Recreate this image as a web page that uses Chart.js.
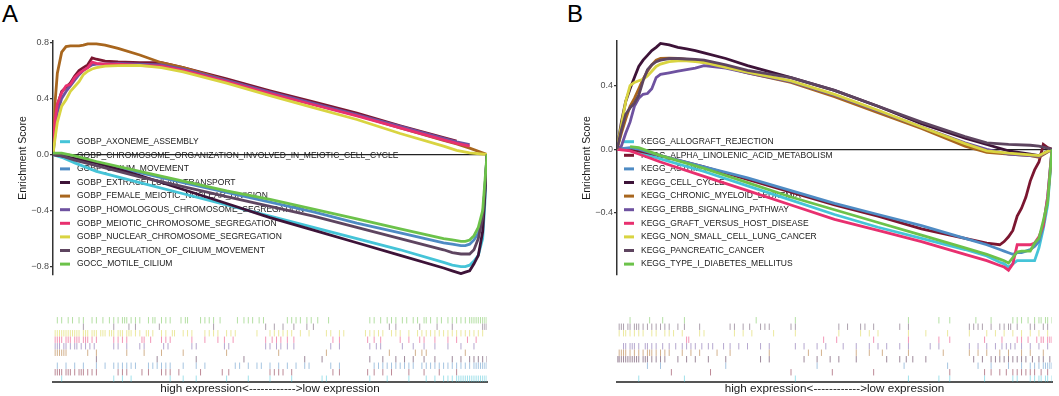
<!DOCTYPE html>
<html>
<head>
<meta charset="utf-8">
<script src="https://cdn.jsdelivr.net/npm/chart.js@4.4.1/dist/chart.umd.min.js"></script>
<style>
body{margin:0;background:#fff;width:1059px;height:396px;position:relative;overflow:hidden;font-family:"Liberation Sans",Arial,sans-serif}
canvas{position:absolute}
.tag{position:absolute;font-size:24px;line-height:24px;color:#000}
</style>
</head>
<body>
<div class="tag" style="left:2px;top:2px">A</div>
<div class="tag" style="left:567px;top:2px">B</div>
<canvas id="esA" width="500" height="290" style="left:0;top:0"></canvas>
<canvas id="rugA" width="500" height="96" style="left:0;top:300px"></canvas>
<canvas id="esB" width="529" height="290" style="left:530px;top:0"></canvas>
<canvas id="rugB" width="529" height="96" style="left:530px;top:300px"></canvas>
<script>
// shared palette, one colour per gene set (same order in both panels)
const setColors = ["#45C4D8","#7B1630","#4E8BC4","#3D1338","#A8661E","#6E52A0","#E8306F","#D9D441","#5E4560","#6CC24A"];

// ---- panel A ----
const termsA = ["GOBP_AXONEME_ASSEMBLY","GOBP_CHROMOSOME_ORGANIZATION_INVOLVED_IN_MEIOTIC_CELL_CYCLE","GOBP_CILIUM_MOVEMENT","GOBP_EXTRACELLULAR_TRANSPORT","GOBP_FEMALE_MEIOTIC_NUCLEAR_DIVISION","GOBP_HOMOLOGOUS_CHROMOSOME_SEGREGATION","GOBP_MEIOTIC_CHROMOSOME_SEGREGATION","GOBP_NUCLEAR_CHROMOSOME_SEGREGATION","GOBP_REGULATION_OF_CILIUM_MOVEMENT","GOCC_MOTILE_CILIUM"];
const ticksA = [-0.8,-0.4,0,0.4,0.8];
const rankUpA = [0,0.5,1,2,3,4,5,6,7,8,9,10,12,15,20,25,30,40,50,60,70,80,90,93,96,100];
const rankDnA = [0,2,5,10,20,30,40,50,60,70,80,90,92,94,95,96,97,98,99,99.5,100];
const esAxoneme   = [0,-0.02,-0.06,-0.12,-0.2,-0.28,-0.36,-0.44,-0.52,-0.6,-0.68,-0.77,-0.79,-0.8,-0.8,-0.79,-0.76,-0.72,-0.6,-0.35,0];
const esChromOrg  = [0,0.22,0.35,0.45,0.48,0.51,0.56,0.6,0.62,0.64,0.69,0.68,0.667,0.66,0.655,0.655,0.62,0.54,0.455,0.375,0.295,0.205,0.12,0.095,null,null];
const esCilium    = [0,-0.01,-0.03,-0.06,-0.13,-0.2,-0.27,-0.34,-0.41,-0.49,-0.56,-0.63,-0.64,-0.65,-0.65,-0.64,-0.61,-0.56,-0.45,-0.25,0];
const esExtracell = [0,-0.01,-0.03,-0.06,-0.15,-0.25,-0.35,-0.45,-0.54,-0.63,-0.72,-0.81,-0.83,-0.85,-0.84,-0.83,-0.78,-0.72,-0.55,-0.3,0];
const esFemale    = [0,0.38,0.58,0.73,0.77,0.775,0.775,0.775,0.78,0.79,0.79,0.79,0.78,0.757,0.71,0.655,0.62,0.53,0.44,0.36,0.28,0.19,0.1,0.075,0.045,0];
const esHomolog   = [0,0.15,0.3,0.4,0.45,0.49,0.53,0.57,0.6,0.62,0.64,0.645,0.645,0.65,0.645,0.64,0.61,0.53,0.445,0.365,0.285,0.2,0.115,0.09,0.07,null];
const esMeiotic   = [0,0.25,0.36,0.44,0.49,0.5,0.55,0.58,0.6,0.62,0.66,0.65,0.645,0.645,0.635,0.63,0.6,0.52,0.435,0.355,0.275,0.19,0.105,0.08,0.06,null];
const esNuclear   = [0,0.12,0.23,0.345,0.39,0.45,0.485,0.52,0.57,0.595,0.61,0.62,0.63,0.634,0.636,0.62,0.59,0.51,0.42,0.335,0.25,0.15,0.06,0.03,0.012,0];
const esRegCilium = [0,-0.01,-0.04,-0.08,-0.16,-0.23,-0.3,-0.37,-0.44,-0.52,-0.6,-0.68,-0.7,-0.71,-0.71,-0.71,-0.68,-0.6,-0.45,-0.25,0];
const esMotile    = [0.01,0.01,-0.01,-0.05,-0.12,-0.19,-0.26,-0.32,-0.39,-0.46,-0.53,-0.6,-0.61,-0.62,-0.62,-0.61,-0.58,-0.52,-0.4,-0.2,0];
// hit positions (rank %) for the rug, one row per set
const hitsAxoneme   = [2,14,16,18,27,30,33,40,45,50,55,62,63,73,77,82,86,88,90,91,92,93,93.5,94,94.5,95,95.5,96,96.5,97,97.5,98,98.5,99,99.5,100];
const hitsChromOrg  = [0.5,1,1.5,2,3,3.5,4,5,6,6.5,7,8,9,10,15,16,17,20.5,22,25,26,27,29,34,39,40.5,50,51,52,53,55,64.5,66,72.5,74,76,78,82,85.5,89,93];
const hitsCilium    = [1,3,5,7,10,12,14,15,16,17,18,19,22,23,24,25,26,27,30,33,35,42,43,45,47,48,50,52,54,56,58,59,64,66,74,75,76,77,78,79,80,81,82,83,85,86,87,88,89,90,91,92,93,94,95,96,97,97.5,98,98.5,99,99.5,100];
const hitsExtracell = [10,24,33,44,58,62,73,76,79,81,83,85.5,88,92,94,96,97,98,99,100];
const hitsFemale    = [0.5,1,1.5,2,2.5,3,8,10,17,21,25,30,40,52,63,77.5,83.5,85,86,95];
const hitsHomolog   = [0.5,1,1.5,2.5,3,4,5,5.5,6.5,7.5,8.5,9.5,14,15,17,20,21,25.5,26.5,32,33,39.5,40.5,49,50,51.5,52.5,54,55.5,64,66,73,74.5,75.5,80.5,83,85.5,88,91,94,97];
const hitsMeiotic   = [0.5,1,1.5,2,3,3.5,4,5,5.5,6,7,7.5,8,9,10,14,15,16,17,20.5,21,22.5,25,26,27,32,35,38,39.5,41.5,49,50.5,51.5,52.5,54,55.5,64.5,66,72.5,74,75.5,80,82,84.5,85.5,88,91,93,95.5,97.5];
const hitsNuclear   = [0.5,1,1.5,2,2.5,3,3.5,4,4.5,5,5.5,6,7,7.5,8,9,9.5,10,11,11.5,12,13,13.5,14,15,15.5,16,17,17.5,18,19,20,21.5,22,23,25,26,27.5,28,30,31,32,35,36,37,38,40,41,42,47,50,51,52,53,54,55,57,59,63,64,66,67,72,73,74,75,76,78,79,80,82,84,85,86,87,88,89,90,91,92,93,94,95,96,97,98,99];
const hitsRegCilium = [7,14,17.5,19,24.5,37,49,51,53,55.5,58.5,60,77.5,79,84.5,88.5,92,99,99.5,100];
const hitsMotile    = [1,2,3.5,4.5,6,7,9,10,11.5,13,14,15,16,16.5,17,18,19,20,22,23,23.5,25,26,27,29.5,30.5,31,34,35,36,37,38.5,42.5,44,45,46,47.5,48.5,54,55,56,57,58.5,59.5,61,63.5,73,74,75.5,77,78,79,80.5,81.5,83,84,85.5,86,87,88.5,89.5,91,92,93,94,95,96,96.5,97,97.5,98,98.5,99,99.5,100];

// ---- panel B ----
const termsB = ["KEGG_ALLOGRAFT_REJECTION","KEGG_ALPHA_LINOLENIC_ACID_METABOLISM","KEGG_ASTHMA","KEGG_CELL_CYCLE","KEGG_CHRONIC_MYELOID_LEUKEMIA","KEGG_ERBB_SIGNALING_PATHWAY","KEGG_GRAFT_VERSUS_HOST_DISEASE","KEGG_NON_SMALL_CELL_LUNG_CANCER","KEGG_PANCREATIC_CANCER","KEGG_TYPE_I_DIABETES_MELLITUS"];
const ticksB = [-0.4,0,0.4];
const rankUpB = [0,1,2,3,4,5,6,7,8,9,10,12,14,16,18,20,25,30,40,50,60,70,80,85,90,95,97,100];
const rankDnB = [0,3,5,10,20,30,40,50,60,70,80,85,88,89,90,91,92,93,94,95,96,97,98,99,100];
const esAllograft  = [0,0,-0.02,-0.06,-0.14,-0.23,-0.32,-0.41,-0.49,-0.56,-0.63,-0.67,-0.71,-0.72,-0.74,-0.72,-0.7,-0.7,-0.7,-0.7,-0.7,-0.62,-0.5,-0.35,0];
const esAlpha      = [0,0,-0.01,-0.04,-0.11,-0.19,-0.27,-0.35,-0.42,-0.5,-0.56,-0.59,-0.6,-0.58,-0.55,-0.51,-0.42,-0.37,-0.3,-0.2,-0.13,-0.08,0.03,0.01,0];
const esAsthma     = [0,0.01,0,-0.04,-0.11,-0.18,-0.26,-0.34,-0.41,-0.48,-0.56,-0.6,-0.63,-0.64,-0.65,-0.66,-0.65,-0.65,-0.64,-0.63,-0.61,-0.58,-0.48,-0.3,0];
const esCellCycle  = [0,0.17,0.3,0.38,0.45,0.52,0.56,0.59,0.62,0.64,0.665,0.655,0.64,0.63,0.62,0.605,0.57,0.525,0.45,0.37,0.27,0.16,0.07,0.03,-0.01,-0.03,-0.04,0];
const esChronic    = [0,0.1,0.19,0.27,0.32,0.38,0.44,0.49,0.53,0.56,0.57,0.572,0.57,0.565,0.555,0.545,0.515,0.48,0.42,0.33,0.23,0.13,0.02,-0.02,-0.03,-0.04,-0.05,0];
const esErbb       = [0,0.02,0.1,0.17,0.27,0.32,0.345,0.35,0.38,0.45,0.47,0.48,0.49,0.5,0.51,0.525,0.51,0.48,0.425,0.34,0.24,0.14,0.04,0,-0.03,-0.04,-0.045,0];
const esGraft      = [0,-0.01,-0.03,-0.08,-0.17,-0.26,-0.35,-0.44,-0.51,-0.58,-0.66,-0.7,-0.73,-0.74,-0.76,-0.72,-0.6,-0.6,-0.6,-0.6,-0.59,-0.55,-0.48,-0.3,0];
const esNsclc      = [0,0.15,0.3,0.4,0.42,0.43,0.44,0.46,0.49,0.52,0.535,0.55,0.555,0.555,0.55,0.545,0.515,0.485,0.43,0.345,0.245,0.14,0.035,-0.01,-0.025,-0.035,-0.04,0];
const esPancreatic = [0,0.12,0.22,0.26,0.29,0.34,0.43,0.5,0.53,0.55,0.56,0.57,0.57,0.567,0.565,0.56,0.53,0.495,0.45,0.37,0.27,0.17,0.08,0.04,0.03,0.025,0.02,0];
const esDiabetes   = [null,0.017,0.01,-0.04,-0.12,-0.21,-0.3,-0.38,-0.46,-0.54,-0.62,-0.66,-0.69,-0.7,-0.715,-0.68,-0.645,-0.64,-0.64,-0.64,-0.59,-0.56,-0.45,-0.33,0];
const hitsAllograft  = [5,15.5,41,67,74,76.5,84.5,91,92,95,96,97,97.5,98.5,99,100];
const hitsAlpha      = [12.5,21.5,40,49.5,59,76.5,84.5,86,88,89.5,91,92,93,94,95,96,97.5,99];
const hitsAsthma     = [7,10,25,46,66,76,83,86,90,93,95,96,97,98,98.5,99,99.5,100];
const hitsCellCycle  = [0.2,0.5,1,1.5,2,2.5,3,3.5,4,4.5,5,6,6.5,7,8,9,10,11,14,16,18,21,25,33,35,43,46,49,51,55,62,65,66.5,68,71,82,84,86,87,88,89,90,91,92,93,94,95.5,97,98,99.5];
const hitsChronic    = [0.5,1,1.5,2,3,4,5,6,7,7.5,8,9,10,11,12,15,17,19,23,26,35,44,47,55,58,61,67,75,81,83,85,88,90,93,95,98];
const hitsErbb       = [1.5,2,3,3.5,4,5,6.5,7,8,9,10.5,12,13.5,15,16,17,18,19.5,21,22,24.5,26,28,30,33,35,41,43,46,48,52,55,58,60,62,65,67,72,74,81,83,85,87,88.5,89.5,90.5,91.5,93,95,97,99];
const hitsGraft      = [16,16.5,47.5,50.5,59,67,74,76.5,84.5,88.5,92,93,94.5,96.5,97.5,98,99,99.5,100];
const hitsNsclc      = [0.5,1.5,2,3,4,5,6,8,9,11,12,13,15,19,20,27,29,31,36,41,51,56,58,60,67,71,76,81,85,87,89,91,93,95,97,99];
const hitsPancreatic = [0.5,1,1.5,2.5,3,4,4.5,5,6,7,8,9,10,11,12,14,15.5,19,26,27,29,30.5,33,34,35,40,41,51,53,56,57,59,65,67,81,82,83,84,86,88,89,90,90.5,92,95,96,98,99];
const hitsDiabetes   = [3,7.5,10.5,15.5,32,41,67,74,76.5,82.5,86,91,92,93,94.5,96,97,97.5,98.5,99,100];

const fontFamily = '"Liberation Sans", Arial, sans-serif';

function pairs(xs, ys){
    var out = [];
    for (let i = 0; i < xs.length; i++) {
        out.push({x: xs[i], y: ys[i]});
    }
    return out;
}

function fmtTick(v){
    if (Math.abs(v) < 1e-9) return "0.0";
    return (v < 0 ? "\u2212" : "") + Math.abs(v).toFixed(1);
}

// legend drawn inside the plot, under the curves
const insideLegend = {
    id: "insideLegend",
    beforeDatasetsDraw(chart, args, opts){
        const ctx = chart.ctx;
        ctx.save();
        ctx.font = "8.5px " + fontFamily;
        ctx.textBaseline = "middle";
        chart.data.datasets.forEach(function(ds, i){
            const y = opts.top + i * opts.step;
            ctx.strokeStyle = ds.borderColor;
            ctx.lineWidth = 3;
            ctx.beginPath();
            ctx.moveTo(opts.left, y);
            ctx.lineTo(opts.left + 10, y);
            ctx.stroke();
            ctx.fillStyle = "#1a1a1a";
            ctx.fillText(ds.label, opts.left + 17, y);
        });
        ctx.restore();
    }
};

function esChart(id, terms, series, yMin, yMax, tickVals, padLeft, padRight, legendLeft){
    const datasets = series.map(function(s, i){
        return {
            label: terms[i],
            data: pairs(s[0], s[1]),
            borderColor: setColors[i],
            backgroundColor: setColors[i],
            borderWidth: 2.8,
            pointRadius: 0,
            tension: 0,
            spanGaps: false,
            order: -i
        };
    });
    return new Chart(id, {
        type: "line",
        data: {datasets: datasets},
        plugins: [insideLegend],
        options: {
            responsive: false,
            animation: false,
            layout: {padding: {left: padLeft, right: padRight, top: 41, bottom: 15}},
            plugins: {
                legend: {display: false},
                tooltip: {enabled: false},
                insideLegend: {left: legendLeft, top: 141.7, step: 13.6}
            },
            scales: {
                x: {type: "linear", min: 0, max: 100, display: false},
                y: {
                    min: yMin, max: yMax,
                    afterFit: function(s){ s.width = 53; },
                    afterBuildTicks: function(s){ s.ticks = tickVals.map(function(v){ return {value: v}; }); },
                    border: {color: "#333", width: 1.5},
                    grid: {
                        drawOnChartArea: true,
                        color: function(c){ return c.tick && Math.abs(c.tick.value) < 1e-9 ? "#222" : "rgba(0,0,0,0)"; },
                        tickColor: "#333",
                        tickLength: 3,
                        lineWidth: 1.2
                    },
                    ticks: {color: "#4d4d4d", font: {size: 9, family: fontFamily}, padding: 1, callback: fmtTick},
                    title: {display: true, text: "Enrichment Score", color: "#1a1a1a", font: {size: 10.5, family: fontFamily}, padding: {top: 17, bottom: 0}}
                }
            }
        }
    });
}

function rugChart(id, terms, hits, padLeft, padRight){
    const datasets = hits.map(function(h, i){
        const col = setColors[i] + "80";
        return {
            label: terms[i],
            data: h.map(function(x){ return {x: x, y: i}; }),
            showLine: false,
            pointStyle: "line",
            pointRotation: 90,
            pointRadius: 3.2,
            pointBorderWidth: 1,
            pointBorderColor: col,
            borderColor: col,
            backgroundColor: col
        };
    });
    return new Chart(id, {
        type: "scatter",
        data: {datasets: datasets},
        options: {
            responsive: false,
            animation: false,
            layout: {padding: {left: padLeft, right: padRight, top: 17, bottom: 0}},
            plugins: {legend: {display: false}, tooltip: {enabled: false}},
            scales: {
                x: {
                    type: "linear", min: 0, max: 100,
                    afterFit: function(s){ s.height = 14; },
                    grid: {display: false},
                    border: {color: "#555", width: 2},
                    ticks: {display: false},
                    title: {display: true, text: "high expression<------------>low expression", color: "#1a1a1a", font: {size: 11.7, family: fontFamily}, padding: {top: 0, bottom: 0}}
                },
                y: {min: -0.5, max: 9.5, display: false}
            }
        }
    });
}

esChart("esA", termsA, [
    [rankDnA, esAxoneme], [rankUpA, esChromOrg], [rankDnA, esCilium], [rankDnA, esExtracell], [rankUpA, esFemale],
    [rankUpA, esHomolog], [rankUpA, esMeiotic], [rankUpA, esNuclear], [rankDnA, esRegCilium], [rankDnA, esMotile]
], -0.86, 0.81, ticksA, 0, 13, 60);

esChart("esB", termsB, [
    [rankDnB, esAllograft], [rankDnB, esAlpha], [rankDnB, esAsthma], [rankUpB, esCellCycle], [rankUpB, esChronic],
    [rankUpB, esErbb], [rankDnB, esGraft], [rankUpB, esNsclc], [rankUpB, esPancreatic], [rankDnB, esDiabetes]
], -0.79, 0.68, ticksB, 34, 7, 94);

rugChart("rugA", termsA, [hitsAxoneme, hitsChromOrg, hitsCilium, hitsExtracell, hitsFemale, hitsHomolog, hitsMeiotic, hitsNuclear, hitsRegCilium, hitsMotile], 53, 13);
rugChart("rugB", termsB, [hitsAllograft, hitsAlpha, hitsAsthma, hitsCellCycle, hitsChronic, hitsErbb, hitsGraft, hitsNsclc, hitsPancreatic, hitsDiabetes], 87, 7);
</script>
</body>
</html>
